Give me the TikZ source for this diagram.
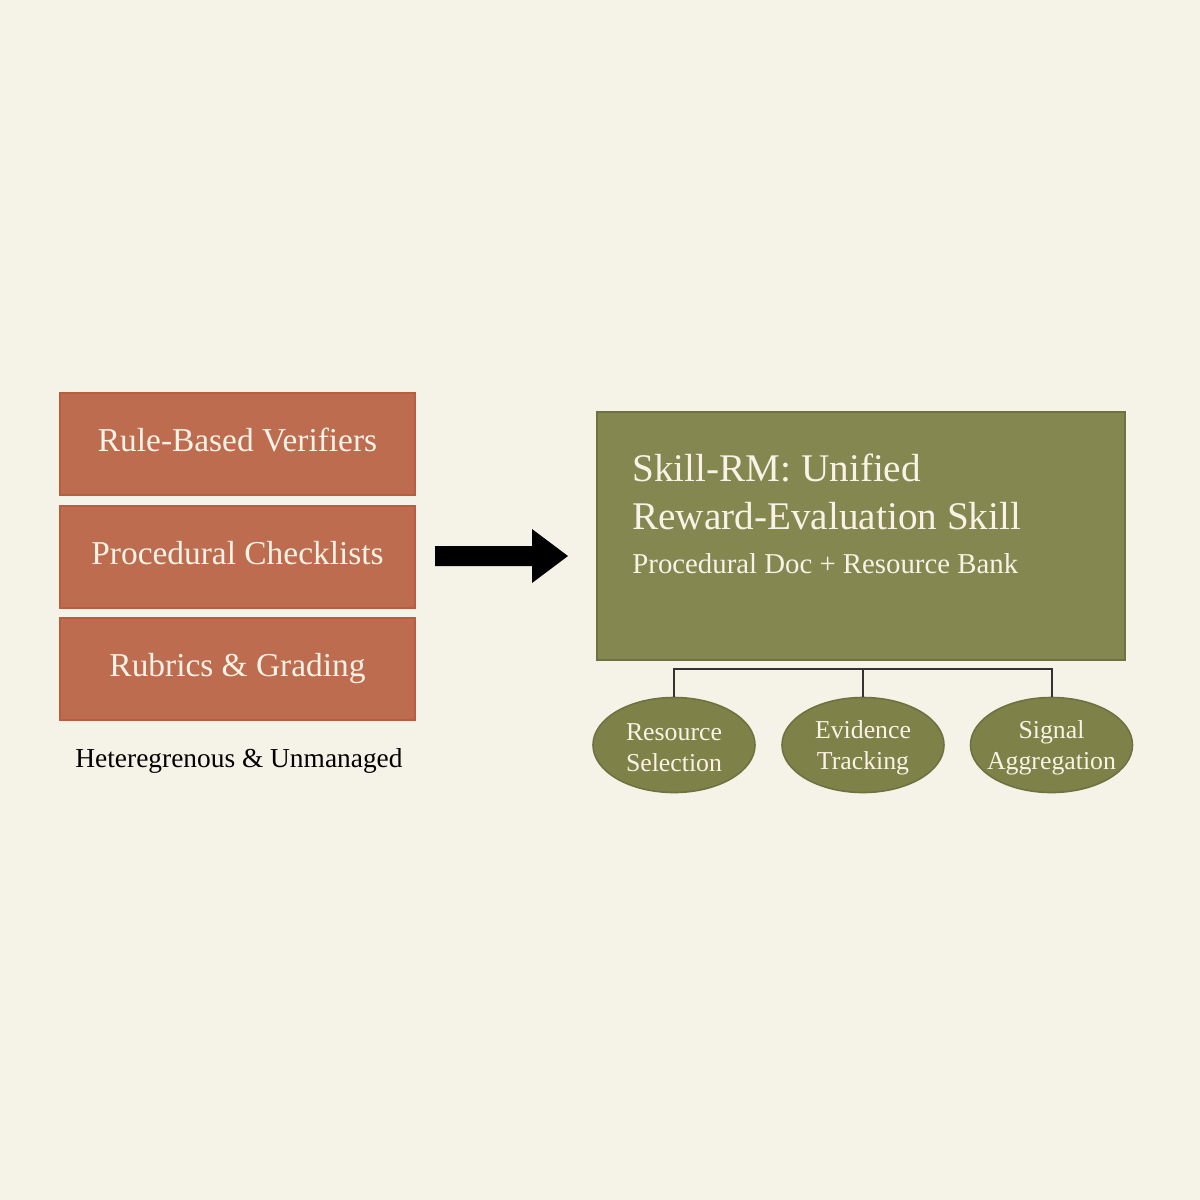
\documentclass[tikz,border=0pt]{standalone}
\usepackage{fontspec}
\setmainfont{Liberation Serif}
\usetikzlibrary{shapes.geometric}
\definecolor{bg}{HTML}{F5F2E8}
\definecolor{terra}{HTML}{BD6C4F}
\definecolor{terraedge}{HTML}{B65F40}
\definecolor{olive}{HTML}{848750}
\definecolor{oliveedge}{HTML}{6F7240}
\definecolor{olivedark}{HTML}{7F8248}
\definecolor{cream}{HTML}{F8F3E6}
\definecolor{linegray}{HTML}{333333}
\begin{document}
\begin{tikzpicture}[x=0.5pt,y=-0.5pt,
  srcbox/.style={draw=terraedge, line width=1pt, fill=terra, minimum width=177.5pt,
    minimum height=51pt, inner sep=0pt, text=cream,
    font=\fontsize{16.7}{19}\selectfont, text height=0.74em, text depth=0pt},
  captiontext/.style={inner sep=0pt, text=black, font=\fontsize{13.7}{16}\selectfont},
  skillbox/.style={draw=oliveedge, line width=1pt, fill=olive, minimum width=264pt,
    minimum height=124pt, inner sep=0pt},
  titletext/.style={anchor=base west, inner sep=0pt, text=cream, font=\fontsize{19.6}{23}\selectfont},
  subtext/.style={anchor=base west, inner sep=0pt, text=cream, font=\fontsize{14.4}{17}\selectfont},
  ell/.style={ellipse, draw=oliveedge, line width=0.8pt, fill=olivedark, minimum width=81pt,
    minimum height=47.5pt, inner sep=0pt},
  elltext/.style={inner sep=0pt, text=cream, align=center,
    font=\fontsize{12.9}{15.5}\selectfont},
  busline/.style={draw=linegray, line width=1pt}
]
\fill[bg] (0,0) rectangle (1200,1200);
\useasboundingbox (0,0) rectangle (1200,1200);

% left stack
\node[srcbox] (rbv) at (237.5,444) {Rule-Based Verifiers};
\node[srcbox] (pc) at (237.5,557) {Procedural Checklists};
\node[srcbox] (rg) at (237.5,669) {Rubrics \& Grading};
\node[captiontext, anchor=base] (cap) at (239,767) {Heteregrenous \& Unmanaged};

% arrow
\fill[black] (435,546) -- (532,546) -- (532,529) -- (568,556) -- (532,583) -- (532,566) -- (435,566) -- cycle;

% skill box
\node[skillbox] (skill) at (861,536) {};
\node[titletext] (t1) at (632,481) {Skill-RM: Unified};
\node[titletext] (t2) at (632,529) {Reward-Evaluation Skill};
\node[subtext] (sub) at (632,573) {Procedural Doc + Resource Bank};

% ellipses
\node[ell] (rs) at (674,745) {};
\node[ell] (es) at (863,745) {};
\node[ell] (sa) at (1051.5,745) {};
\node[elltext] (rst) at ([yshift=-1.5pt]rs.center) {Resource\\Selection};
\node[elltext] (est) at ([yshift=-1.5pt]es.center) {Evidence\\Tracking};
\node[elltext] (sat) at ([yshift=-1.5pt]sa.center) {Signal\\Aggregation};

% connectors
\coordinate (bus) at (863,669);
\draw[busline] (rs.north) |- (bus) -| (sa.north);
\draw[busline] (es.north) -- (es.north |- bus);
\end{tikzpicture}
\end{document}
